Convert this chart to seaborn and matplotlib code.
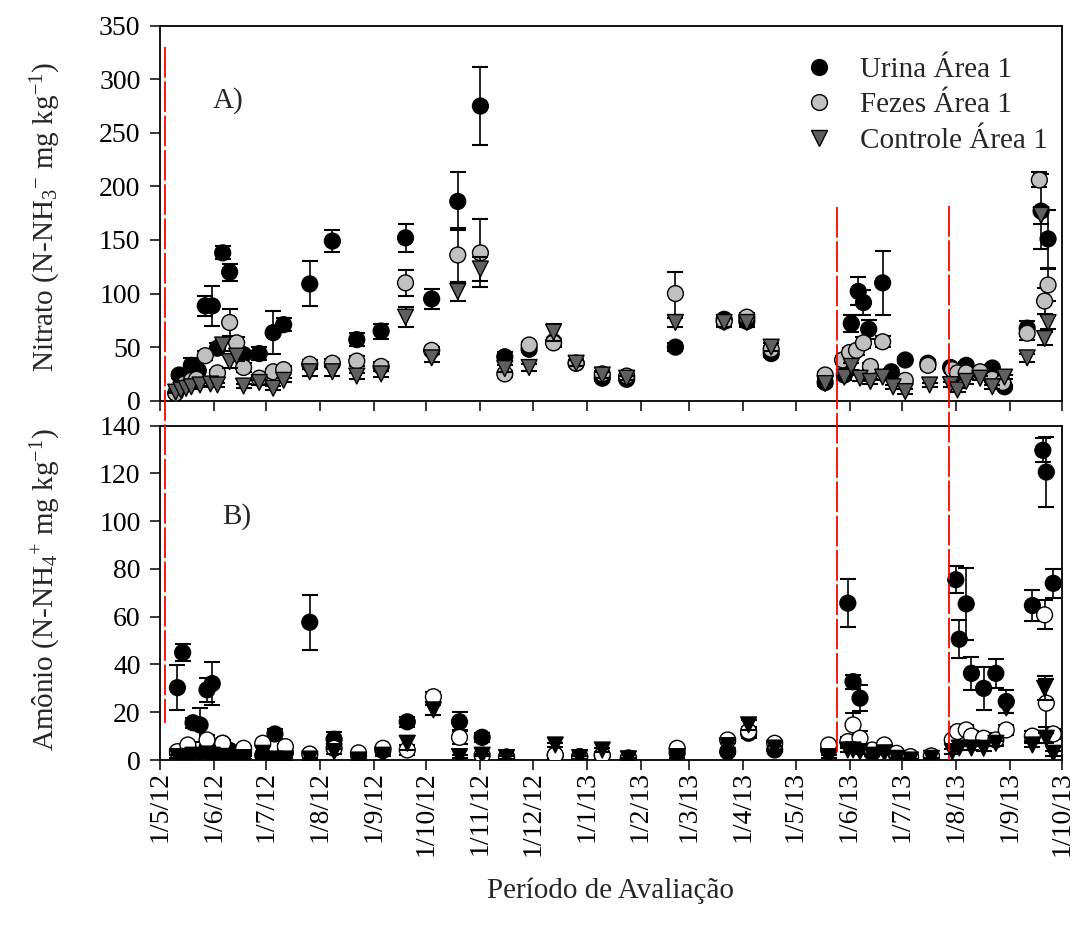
import matplotlib
matplotlib.use("Agg")
import matplotlib.pyplot as plt
import matplotlib.ticker as mticker
import matplotlib.dates as mdates
from matplotlib.lines import Line2D
import pandas as pd
import seaborn as sns

# ---------------- Nitrato (mg kg-1) ----------------
nit_urina_datas = ["2012-05-12", "2012-05-19", "2012-05-23", "2012-05-27", "2012-05-31", "2012-06-03",
                   "2012-06-06", "2012-06-10", "2012-06-18", "2012-06-27", "2012-07-05", "2012-07-11",
                   "2012-07-26", "2012-08-08", "2012-08-22", "2012-09-05", "2012-09-19", "2012-10-04",
                   "2012-10-19", "2012-11-01", "2012-11-15", "2012-11-29", "2012-12-13", "2012-12-26",
                   "2013-01-10", "2013-01-24", "2013-02-21", "2013-03-21", "2013-04-03", "2013-04-17",
                   "2013-05-18", "2013-05-29", "2013-06-02", "2013-06-06", "2013-06-09", "2013-06-12",
                   "2013-06-20", "2013-06-25", "2013-07-03", "2013-07-16", "2013-07-29", "2013-08-07",
                   "2013-08-22", "2013-08-29", "2013-09-11", "2013-09-19", "2013-09-23"]
nit_urina = [24, 33, 28, 88.5, 88.5, 49, 138, 120, 43, 44, 63.5, 71, 109, 149, 57, 65, 152, 95,
             186, 275, 41, 48, 55, 35, 21, 20, 50, 76, 74, 44, 17, 24, 72, 102, 91.6, 66.7, 110, 27,
             38, 35, 31, 33, 30.5, 13, 67.7, 177, 151]
nit_urina_ep = [3, 7, 3, 9, 19, 5, 6, 8, 3, 6, 20, 6, 21, 10, 6, 7, 13, 9, 27, 36, 4, 3, 3, 3,
                3, 2, 4, 4, 4, 3, 2, 3, 8, 13, 12, 9, 30, 3, 3, 3, 3, 3, 3, 2, 7, 35, 27]

nit_fezes_datas = ["2012-05-10", "2012-05-15", "2012-05-19", "2012-05-22", "2012-05-27", "2012-06-03",
                   "2012-06-10", "2012-06-14", "2012-06-18", "2012-06-27", "2012-07-05", "2012-07-11",
                   "2012-07-26", "2012-08-08", "2012-08-22", "2012-09-05", "2012-09-19", "2012-10-04",
                   "2012-10-19", "2012-11-01", "2012-11-15", "2012-11-29", "2012-12-13", "2012-12-26",
                   "2013-01-10", "2013-01-24", "2013-02-21", "2013-03-21", "2013-04-03", "2013-04-17",
                   "2013-05-18", "2013-05-28", "2013-06-01", "2013-06-05", "2013-06-09", "2013-06-13",
                   "2013-06-20", "2013-07-03", "2013-07-16", "2013-07-30", "2013-08-02", "2013-08-07",
                   "2013-08-15", "2013-08-22", "2013-08-28", "2013-09-11", "2013-09-18", "2013-09-21",
                   "2013-09-23"]
nit_fezes = [7, 15.6, 19, 20, 42, 26, 73, 54, 31, 21, 27, 29, 34, 35, 37, 32, 110, 47, 136, 138,
             25, 52, 54, 35, 25, 23, 100, 74, 78, 48, 24, 38, 45, 47, 54, 32, 55, 19, 33, 29, 26, 26,
             27, 20, 17, 63, 206, 93, 108]
nit_fezes_ep = [1, 2, 2, 2, 4, 3, 13, 5, 4, 2, 3, 3, 4, 4, 5, 4, 12, 3, 25, 32, 3, 3, 4, 3, 3, 2,
                20, 3, 4, 3, 3, 4, 4, 4, 5, 3, 5, 2, 3, 3, 3, 3, 3, 3, 2, 6, 7, 12, 15]

nit_controle_datas = ["2012-05-10", "2012-05-13", "2012-05-16", "2012-05-19", "2012-05-24", "2012-05-30",
                      "2012-06-03", "2012-06-06", "2012-06-10", "2012-06-14", "2012-06-18", "2012-06-27",
                      "2012-07-05", "2012-07-11", "2012-07-26", "2012-08-08", "2012-08-22", "2012-09-05",
                      "2012-09-19", "2012-10-04", "2012-10-19", "2012-11-01", "2012-11-15", "2012-11-29",
                      "2012-12-13", "2012-12-26", "2013-01-10", "2013-01-24", "2013-02-21", "2013-03-21",
                      "2013-04-03", "2013-04-17", "2013-05-18", "2013-05-29", "2013-06-02", "2013-06-07",
                      "2013-06-13", "2013-06-20", "2013-06-26", "2013-07-03", "2013-07-17", "2013-07-29",
                      "2013-08-02", "2013-08-07", "2013-08-15", "2013-08-22", "2013-08-29", "2013-09-11",
                      "2013-09-19", "2013-09-21", "2013-09-23"]
nit_controle = [8, 10, 11.5, 13, 14.7, 15.6, 14.7, 52, 36.5, 41.6, 13.7, 17, 11.6, 19, 27, 27, 23,
                25, 78, 40, 102, 123, 30, 31, 64, 35, 24, 21, 73, 73, 73, 50, 16, 22, 32, 21, 18, 22,
                13, 8.5, 14.7, 15, 10, 18, 21, 13, 22, 40, 173, 58, 73]
nit_controle_ep = [1, 1, 1, 2, 2, 2, 2, 6, 6, 5, 2, 2, 2, 2, 4, 4, 3, 3, 9, 4, 9, 11, 3, 3, 8, 3,
                   3, 2, 4, 4, 4, 4, 2, 3, 3, 3, 2, 3, 2, 2, 2, 2, 2, 2, 2, 2, 2, 4, 8, 6, 6]

# ---------------- Amônio (mg kg-1) ----------------
amo_urina_datas = ["2012-05-11", "2012-05-14", "2012-05-17", "2012-05-20", "2012-05-24", "2012-05-28",
                   "2012-05-31", "2012-06-06", "2012-06-10", "2012-06-18", "2012-06-29", "2012-07-06",
                   "2012-07-12", "2012-07-26", "2012-08-09", "2012-08-23", "2012-09-06", "2012-09-20",
                   "2012-10-20", "2012-11-02", "2012-11-16", "2012-12-14", "2012-12-28", "2013-01-10",
                   "2013-01-25", "2013-02-22", "2013-03-23", "2013-04-04", "2013-04-19", "2013-05-20",
                   "2013-05-31", "2013-06-03", "2013-06-07", "2013-06-14", "2013-06-21", "2013-06-28",
                   "2013-07-06", "2013-07-18", "2013-08-01", "2013-08-03", "2013-08-07", "2013-08-10",
                   "2013-08-17", "2013-08-24", "2013-08-30", "2013-09-14", "2013-09-20", "2013-09-22",
                   "2013-09-26"]
amo_urina = [30.3, 45, 5, 15.6, 14.7, 29.4, 32, 7, 4, 3, 2, 10.9, 3, 57.7, 8.7, 2, 4, 16, 16, 9.5,
             1.2, 2, 1.4, 2, 0.8, 3, 3.5, 11.2, 4.2, 4.2, 65.7, 32.8, 25.9, 3, 5, 2, 1, 1.5, 75.5,
             50.6, 65.4, 36.3, 30, 36.3, 24.5, 64.7, 129.7, 120.6, 74]
amo_urina_ep = [9.5, 3.5, 1, 2, 7, 5, 9, 1.5, 1, 1, 1, 2, 1, 11.5, 3, 0.5, 1, 2, 4, 2, 0.5, 1,
                0.5, 0.5, 0.3, 1, 1, 2, 1, 1, 10, 3, 5.5, 1, 1, 0.5, 0.5, 0.5, 5.6, 8, 15, 7, 9, 6,
                5, 6.5, 5, 14.5, 6]

amo_fezes_datas = ["2012-05-11", "2012-05-17", "2012-05-28", "2012-06-06", "2012-06-18", "2012-06-29",
                   "2012-07-12", "2012-07-26", "2012-08-09", "2012-08-23", "2012-09-06", "2012-09-20",
                   "2012-10-05", "2012-10-20", "2012-11-02", "2012-11-16", "2012-12-14", "2012-12-28",
                   "2013-01-10", "2013-01-25", "2013-02-22", "2013-03-23", "2013-04-04", "2013-04-19",
                   "2013-05-20", "2013-05-31", "2013-06-03", "2013-06-07", "2013-06-14", "2013-06-21",
                   "2013-06-28", "2013-07-06", "2013-07-18", "2013-07-30", "2013-08-02", "2013-08-07",
                   "2013-08-10", "2013-08-17", "2013-08-24", "2013-08-30", "2013-09-14", "2013-09-21",
                   "2013-09-22", "2013-09-26"]
amo_fezes = [3.5, 6.3, 8.4, 7, 4.9, 7, 5.6, 2.5, 4.9, 3, 4.9, 4.2, 26.5, 9.5, 2, 1.2, 2.1, 1.4, 2,
             0.8, 4.9, 8.4, 12, 7, 6.3, 7.7, 14.7, 9.1, 4.2, 6.3, 2.8, 1.4, 1.7, 8.4, 11.9, 12.6, 10,
             9.1, 8.4, 12.6, 10, 60.8, 23.8, 10.9]
amo_fezes_ep = [1, 1, 2, 1, 1, 1, 1, 0.5, 1, 0.5, 1, 2, 2, 3, 0.5, 0.5, 0.5, 0.5, 0.5, 0.3, 1, 1,
                2, 1, 1, 2, 5, 3, 1, 1, 0.5, 0.5, 0.5, 1, 2, 2, 2, 2, 2, 2, 2, 6, 10, 2]

amo_controle_datas = ["2012-05-11", "2012-05-14", "2012-05-17", "2012-05-20", "2012-05-24", "2012-05-28",
                      "2012-05-31", "2012-06-03", "2012-06-06", "2012-06-10", "2012-06-14", "2012-06-18",
                      "2012-06-29", "2012-07-06", "2012-07-12", "2012-07-26", "2012-08-09", "2012-08-23",
                      "2012-09-06", "2012-09-20", "2012-10-05", "2012-10-20", "2012-11-02", "2012-11-16",
                      "2012-12-14", "2012-12-28", "2013-01-10", "2013-01-25", "2013-02-22", "2013-03-23",
                      "2013-04-04", "2013-04-19", "2013-05-20", "2013-05-31", "2013-06-03", "2013-06-07",
                      "2013-06-14", "2013-06-21", "2013-06-28", "2013-07-06", "2013-07-18", "2013-07-30",
                      "2013-08-03", "2013-08-10", "2013-08-17", "2013-08-24", "2013-08-30", "2013-09-14",
                      "2013-09-21", "2013-09-22", "2013-09-26"]
amo_controle = [1.4, 1, 1.5, 2, 1.5, 2.5, 2, 1, 1.5, 1, 1, 1, 2.8, 0.4, 0.4, 0.4, 3.5, 0, 2, 7, 21,
                1.4, 2, 1, 6.3, 1, 4.2, 0.5, 1.4, 6, 14.7, 5, 1.4, 4.2, 4.2, 3.5, 2, 3, 0.7, 0, 0.7,
                3.5, 5, 5, 4.9, 7, 21.8, 6.3, 30, 9.1, 2.8]
amo_controle_ep = [0.5, 0.5, 0.5, 0.5, 0.5, 0.5, 0.5, 0.5, 0.5, 0.5, 0.5, 0.5, 0.5, 0.3, 0.3, 0.3,
                   1, 0.3, 0.5, 3, 2, 0.5, 0.5, 0.5, 1, 0.5, 1, 0.3, 0.5, 1, 2, 1, 0.5, 1, 1, 1, 0.5,
                   0.5, 0.3, 0.3, 0.3, 1, 1, 1, 1, 1, 2, 1, 5, 2, 1]

# datas de aplicação dos tratamentos
aplicacoes = ["2012-05-04", "2013-05-25", "2013-07-28"]

tratamentos = ["Urina Área 1", "Fezes Área 1", "Controle Área 1"]
meses = pd.date_range("2012-05-01", "2013-10-01", freq="MS")


def tabela(series):
    partes = []
    for nome, (datas, valores, erros) in zip(tratamentos, series):
        partes.append(pd.DataFrame({"data": pd.to_datetime(datas), "valor": valores,
                                    "ep": erros, "tratamento": nome}))
    return pd.concat(partes, ignore_index=True)


df_nit = tabela([(nit_urina_datas, nit_urina, nit_urina_ep),
                 (nit_fezes_datas, nit_fezes, nit_fezes_ep),
                 (nit_controle_datas, nit_controle, nit_controle_ep)])
df_amo = tabela([(amo_urina_datas, amo_urina, amo_urina_ep),
                 (amo_fezes_datas, amo_fezes, amo_fezes_ep),
                 (amo_controle_datas, amo_controle, amo_controle_ep)])

sns.set_style("ticks")
plt.rcParams["font.family"] = ["Liberation Serif", "DejaVu Serif"]
plt.rcParams["mathtext.fontset"] = "custom"
plt.rcParams["mathtext.rm"] = "Liberation Serif"
plt.rcParams["mathtext.it"] = "Liberation Serif:italic"
plt.rcParams["mathtext.bf"] = "Liberation Serif:bold"

fig = plt.figure(figsize=(10.77, 9.36), dpi=100)
ax_a = fig.add_axes([0.14856, 0.57190, 0.83751, 0.40064])
ax_b = fig.add_axes([0.14856, 0.18803, 0.83751, 0.35716])

marcadores = {"Urina Área 1": "o", "Fezes Área 1": "o", "Controle Área 1": "v"}
cores_a = {"Urina Área 1": "#000000", "Fezes Área 1": "#c0c0c0", "Controle Área 1": "#5f5f5f"}
cores_b = {"Urina Área 1": "#000000", "Fezes Área 1": "#ffffff", "Controle Área 1": "#000000"}


def painel(ax, df, cores):
    for i, nome in enumerate(tratamentos):
        sub = df[df["tratamento"] == nome]
        ax.errorbar(sub["data"], sub["valor"], yerr=sub["ep"], fmt="none", ecolor="black",
                    elinewidth=1.2, capsize=6.0, capthick=1.5, zorder=2 + 2 * i)
        sns.scatterplot(data=sub, x="data", y="valor", hue="tratamento", style="tratamento",
                        palette=cores, markers=marcadores, s=130, edgecolor="black",
                        linewidth=1.0, ax=ax, legend=False, zorder=3 + 2 * i)


painel(ax_a, df_nit, cores_a)
painel(ax_b, df_amo, cores_b)

inicio = pd.Timestamp("2012-05-01")
fim = pd.Timestamp("2013-10-01")
fmt_data = mticker.FuncFormatter(
    lambda v, p: (lambda d: f"{d.day}/{d.month}/{d.year % 100}")(mdates.num2date(v)))

for ax in (ax_a, ax_b):
    ax.set_xlim(inicio, fim)
    ax.set_xticks(meses)
    ax.xaxis.set_major_formatter(fmt_data)
    ax.set_xlabel("")
    for lado in ("top", "right", "left", "bottom"):
        ax.spines[lado].set_visible(True)
        ax.spines[lado].set_linewidth(1.3)
        ax.spines[lado].set_color("black")
    ax.tick_params(axis="both", direction="out", length=7, width=1.1, colors="black",
                   labelsize=20)
    ax.tick_params(axis="y", pad=7)

ax_a.tick_params(axis="x", labelbottom=False)
ax_b.tick_params(axis="x", labelrotation=90, pad=1)

ax_a.set_ylim(0, 350)
ax_a.set_yticks(range(0, 351, 50))
ax_b.set_ylim(0, 140)
ax_b.set_yticks(range(0, 141, 20))

ax_a.set_ylabel(r"Nitrato (N-NH$_3$$^{-}$ mg kg$^{-1}$)", fontsize=21)
ax_b.set_ylabel(r"Amônio (N-NH$_4$$^{+}$ mg kg$^{-1}$)", fontsize=21)
ax_a.yaxis.set_label_coords(-0.108, 0.49)
ax_b.yaxis.set_label_coords(-0.108, 0.51)

ax_b.set_xlabel("Período de Avaliação", fontsize=21)
ax_b.xaxis.set_label_coords(0.5, -0.35)

ax_a.text(0.058, 0.80, "A)", transform=ax_a.transAxes, fontsize=21, va="center", ha="left")
ax_b.text(0.069, 0.727, "B)", transform=ax_b.transAxes, fontsize=21, va="center", ha="left")

# legenda do painel A
alcas = [Line2D([], [], linestyle="none", marker=marcadores[n], markersize=11.4,
                markerfacecolor=cores_a[n], markeredgecolor="black", markeredgewidth=1.0)
         for n in tratamentos]
ax_a.legend(alcas, tratamentos, loc="upper left", bbox_to_anchor=(0.695, 0.965), frameon=False,
            fontsize=21, handletextpad=0.9, labelspacing=0.32, borderaxespad=0.2, handlelength=1.0)

# linhas de aplicação atravessando os dois painéis (coordenadas da figura)
topos = [330, 181, 182]
bases = [15.5, 2, 0]
para_fig = fig.transFigure.inverted()
for dia, y0, y1 in zip(aplicacoes, topos, bases):
    xd = mdates.date2num(pd.Timestamp(dia))
    p0 = para_fig.transform(ax_a.transData.transform((xd, y0)))
    p1 = para_fig.transform(ax_b.transData.transform((xd, y1)))
    fig.add_artist(Line2D([p0[0], p1[0]], [p0[1], p1[1]], transform=fig.transFigure,
                          color="#ff0000", linewidth=1.3, linestyle=(0, (17, 2)), zorder=5))

fig.savefig("out.png", dpi=100)
